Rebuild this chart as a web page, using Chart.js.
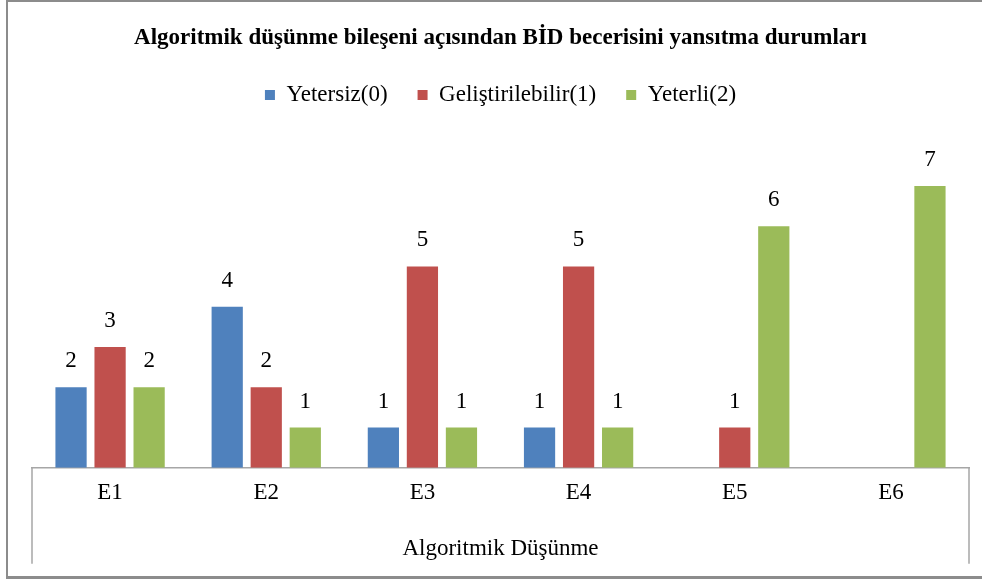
<!DOCTYPE html>
<html>
<head>
<meta charset="utf-8">
<script src="https://cdn.jsdelivr.net/npm/chart.js@4/dist/chart.umd.min.js"></script>
<style>
  html, body { margin: 0; padding: 0; background: #fff; }
  #wrap { position: relative; width: 982px; height: 579px; overflow: hidden; }
  #frame {
    position: absolute; left: 6px; top: 0; width: 990px; height: 574px;
    border: 2px solid #8c8c8c; border-bottom-width: 3px; pointer-events: none;
  }
  canvas { position: absolute; left: 0; top: 0; }
</style>
</head>
<body>
<div id="wrap">
  <canvas id="chart" width="982" height="579"></canvas>
  <div id="frame"></div>
</div>
<script>
// Chart data
const categories = ['E1', 'E2', 'E3', 'E4', 'E5', 'E6'];
const seriesNames = ['Yetersiz(0)', 'Geliştirilebilir(1)', 'Yeterli(2)'];
const yetersiz = [2, 4, 1, 1, 0, 0];
const gelistirilebilir = [3, 2, 5, 5, 1, 0];
const yeterli = [2, 1, 1, 1, 6, 7];
const seriesColors = ['#4F81BD', '#C0504D', '#9BBB59'];

const FONT = "'Liberation Serif', 'Times New Roman', serif";

// Extra space under the legend, so the plot starts lower
const legendGap = {
    id: 'legendGap',
    afterInit(chart) {
        const legend = chart.legend;
        if (!legend) return;
        const fit = legend.fit;
        legend.fit = function () {
            fit.call(this);
            this.height += 29;
        };
    }
};

// Draws value labels above each non-zero bar
const barLabels = {
    id: 'barLabels',
    afterDatasetsDraw(chart) {
        const ctx = chart.ctx;
        ctx.save();
        ctx.font = '23px ' + FONT;
        ctx.fillStyle = '#000';
        ctx.textAlign = 'center';
        ctx.textBaseline = 'middle';
        chart.data.datasets.forEach((ds, i) => {
            const meta = chart.getDatasetMeta(i);
            meta.data.forEach((bar, j) => {
                if (!ds.data[j]) return;
                ctx.fillText(String(ds.data[j]), bar.x, bar.y - 26);
            });
        });
        ctx.restore();
    }
};

// Short vertical lines at both ends of the category axis
const axisFrame = {
    id: 'axisFrame',
    afterDraw(chart) {
        const { ctx, chartArea } = chart;
        ctx.save();
        ctx.strokeStyle = '#a6a6a6';
        ctx.lineWidth = 1.5;
        ctx.beginPath();
        ctx.moveTo(chartArea.left, chartArea.bottom);
        ctx.lineTo(chartArea.left, chartArea.bottom + 96);
        ctx.moveTo(chartArea.right, chartArea.bottom);
        ctx.lineTo(chartArea.right, chartArea.bottom + 96);
        ctx.stroke();
        ctx.restore();
    }
};

const seriesValues = [yetersiz, gelistirilebilir, yeterli];

new Chart(document.getElementById('chart'), {
    type: 'bar',
    data: {
        labels: categories,
        datasets: seriesNames.map((name, i) => ({
            label: name,
            data: seriesValues[i],
            backgroundColor: seriesColors[i],
            borderWidth: 0,
            categoryPercentage: 0.75,
            barPercentage: 0.8
        }))
    },
    options: {
        responsive: false,
        animation: false,
        layout: { padding: { left: 32, right: 13, top: 0, bottom: 0 } },
        plugins: {
            title: {
                display: true,
                text: 'Algoritmik düşünme bileşeni açısından BİD becerisini yansıtma durumları',
                color: '#000',
                font: { family: FONT, size: 23, weight: 'bold', lineHeight: 1.2 },
                padding: { top: 24, bottom: 2 }
            },
            legend: {
                display: true,
                position: 'top',
                labels: {
                    color: '#000',
                    font: { family: FONT, size: 23, lineHeight: 1.2 },
                    boxWidth: 10,
                    boxHeight: 10,
                    padding: 30
                }
            },
            tooltip: { enabled: false }
        },
        scales: {
            x: {
                grid: { display: false, drawTicks: false },
                border: { display: true, color: '#a6a6a6', width: 1.5 },
                ticks: {
                    color: '#000',
                    font: { family: FONT, size: 23, lineHeight: 1.2 },
                    padding: 11
                },
                title: {
                    display: true,
                    text: 'Algoritmik Düşünme',
                    color: '#000',
                    font: { family: FONT, size: 23, lineHeight: 1.2 },
                    padding: { top: 18, bottom: 16 }
                }
            },
            y: {
                display: false,
                min: 0,
                max: 8
            }
        }
    },
    plugins: [legendGap, barLabels, axisFrame]
});
</script>
</body>
</html>
